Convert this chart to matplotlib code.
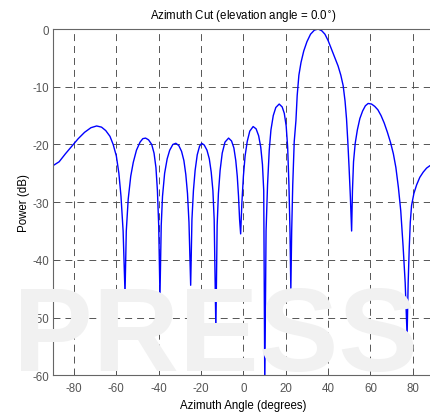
#!/usr/bin/env python3
"""
Azimuth cut of an array pattern (power in dB vs azimuth angle), MATLAB-style.
"""
import matplotlib
matplotlib.use('Agg')
import matplotlib.pyplot as plt

# values, lobe by lobe
azimuth = [-90, -87, -84, -81, -78, -75, -72, -69.3, -67, -65, -63, -61.5, -60, -58.8, -57.8, -56.8, -55.9,
           -55.3, -54.4, -53.2, -52, -50.5, -48.8, -47.5, -46.2, -44.8, -43.3, -42.2, -41.3, -40.6, -40.0, -39.4,
           -38.8, -38.2, -37.2, -36, -34.8, -33.3, -31.9, -30.5, -29.2, -28.1, -27.2, -26.4, -25.7, -24.9,
           -24.3, -23.6, -22.8, -21.8, -20.7, -19.7, -18.5, -17.2, -16.1, -15.2, -14.4, -13.8, -13.0,
           -12.4, -11.8, -11.0, -10.0, -8.7, -7.0, -5.6, -4.5, -3.6, -2.9, -2.3, -1.8, -1.3,
           -0.7, 0.0, 0.8, 1.8, 3.0, 4.6, 6.0, 7.2, 8.2, 9.0, 9.6, 10.1,
           10.7, 11.4, 12.2, 13.0, 14.1, 15.3, 16.9, 18.3, 19.3, 20.2, 20.9, 21.5, 22.0, 22.4,
           22.8, 23.3, 24.0, 24.8, 25.4, 26.2, 27.2, 28.5, 30.0, 31.7, 33.5, 35.3, 37.0, 38.5, 40.0,
           41.6, 43.2, 44.7, 46.0, 47.1, 48.0, 48.7, 49.3, 49.9, 50.5, 51.1,
           51.5, 52.0, 52.8, 53.8, 55.0, 56.3, 57.6, 58.9, 60.5, 62.0, 63.5, 65.0, 66.5, 68.0,
           69.5, 70.8, 72.0, 73.2, 74.3, 75.4, 76.4, 77.3,
           77.8, 78.3, 78.8, 79.4, 80.5, 81.8, 83.3, 84.9, 86.5, 88, 90]
power_db = [-23.7, -23.0, -21.6, -20.3, -19.0, -17.9, -17.1, -16.8, -17.0, -17.6, -18.6, -20.0, -22.0, -25.0, -29.0, -35.0, -45.8,
            -35.0, -29.5, -25.5, -23.1, -21.0, -19.6, -19.0, -18.9, -19.2, -20.0, -21.5, -24.0, -28.0, -34.0, -46.3,
            -34.0, -29.0, -25.0, -22.5, -21.0, -20.0, -19.8, -20.2, -21.2, -22.8, -25.2, -28.5, -33.5, -44.4,
            -33.0, -28.0, -24.5, -21.8, -20.3, -19.8, -20.1, -21.0, -22.5, -24.8, -28.0, -33.0, -52.1,
            -34.0, -28.5, -24.5, -21.5, -19.6, -18.9, -19.4, -20.6, -22.8, -25.5, -29.0, -33.0, -35.5,
            -30.0, -25.5, -22.0, -19.5, -17.7, -16.9, -17.3, -18.5, -20.5, -23.5, -28.0, -62.0,
            -35.0, -27.0, -21.0, -17.5, -15.0, -13.6, -13.0, -13.5, -14.6, -16.8, -20.5, -27.0, -35.0, -45.3,
            -35.0, -27.0, -19.5, -15.9, -11.5, -8.0, -5.8, -3.8, -2.2, -0.9, -0.2, 0.0, -0.3, -0.9, -2.0,
            -3.5, -5.0, -6.4, -8.0, -9.8, -12.5, -15.6, -19.5, -24.0, -29.0, -35.0,
            -28.0, -23.0, -19.8, -17.5, -15.5, -14.2, -13.3, -12.9, -13.0, -13.4, -14.0, -15.0, -16.3, -17.9,
            -19.7, -21.6, -24.0, -27.5, -31.5, -37.6, -44.0, -53.2,
            -44.0, -38.0, -33.5, -30.6, -28.5, -27.0, -25.7, -24.8, -24.1, -23.7, -23.4]

xticks = [-80, -60, -40, -20, 0, 20, 40, 60, 80]
yticks = [0, -10, -20, -30, -40, -50, -60]

plt.rcParams['font.family'] = ['Liberation Sans', 'DejaVu Sans']
plt.rcParams['lines.scale_dashes'] = False
plt.rcParams['axes.unicode_minus'] = False

fig = plt.figure(figsize=(4.30, 4.14), dpi=100)

# faint publisher watermark behind the plot
fig.text(0.03, 0.105, 'PRESS', fontsize=86, fontweight='bold', color='#f1f1f1',
         zorder=0)

ax = fig.add_axes([0.1228, 0.0911, 0.8865, 0.8364])
ax.patch.set_alpha(0)
ax.plot(azimuth, power_db, color='#0000ff', lw=1.0)

ax.set_xlim(-90, 90)
ax.set_ylim(-60, 0)
ax.set_xticks(xticks)
ax.set_yticks(yticks)
ax.tick_params(direction='in', length=3, width=0.6, colors='#555555',
               labelsize=8.3, labelcolor='#555555', pad=2.5)
ax.tick_params(axis='x', pad=4.5)
ax.grid(True, color='#555555', linestyle=(0, (5, 3.6)), linewidth=0.7)
for s in ax.spines.values():
    s.set_color('#666666')
    s.set_linewidth(0.8)

ax.set_title('Azimuth Cut (elevation angle = 0.0$^{\\circ}$)', fontsize=8.3, pad=7)
ax.set_xlabel('Azimuth Angle (degrees)', fontsize=8.3, labelpad=4)
ax.set_ylabel('Power (dB)', fontsize=8.3, labelpad=1.5)

fig.savefig('out.png', dpi=100)
